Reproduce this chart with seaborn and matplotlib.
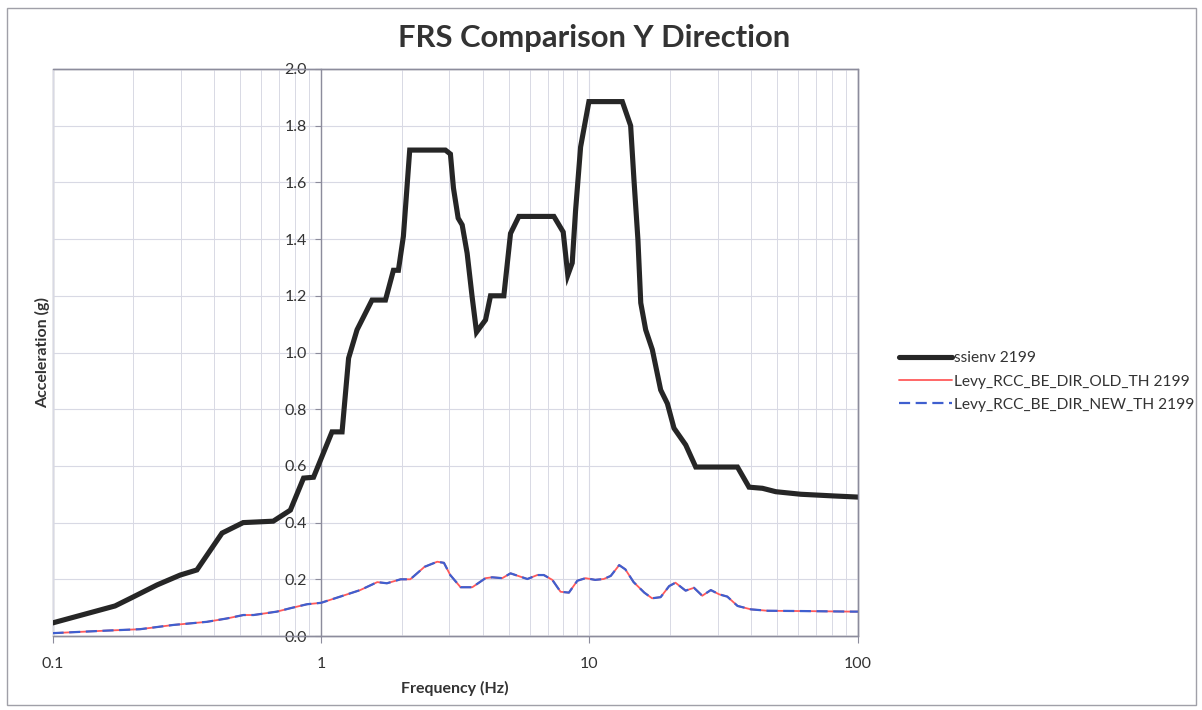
import matplotlib
matplotlib.use("Agg")
import matplotlib.pyplot as plt
import seaborn as sns
import pandas as pd
from matplotlib.ticker import FixedLocator, FixedFormatter, LogLocator, NullFormatter
from matplotlib.patches import Rectangle

# ---------------- data ----------------
env_freq = [0.1, 0.171, 0.2, 0.245, 0.299, 0.345, 0.428, 0.513, 0.664, 0.769,
            0.861, 0.938, 1.099, 1.198, 1.267, 1.362, 1.549, 1.738, 1.861, 1.942,
            2.027, 2.14, 2.906, 3.034, 3.114, 3.242, 3.356, 3.502, 3.655, 3.796,
            4.1, 4.279, 4.797, 5.08, 5.456, 7.369, 7.981, 8.302, 8.623, 8.873,
            9.265, 9.95, 13.25, 14.23, 14.64, 15.15, 15.52, 16.19, 17.14, 18.41,
            19.5, 20.64, 22.82, 24.87, 35.57, 39.28, 44.07, 49.4, 61.2, 81.3, 100]
env_acc = [0.046, 0.106, 0.138, 0.18, 0.215, 0.233, 0.363, 0.40, 0.405, 0.444,
           0.557, 0.56, 0.72, 0.72, 0.98, 1.08, 1.185, 1.185, 1.29, 1.29,
           1.41, 1.714, 1.714, 1.70, 1.58, 1.474, 1.45, 1.35, 1.196, 1.072,
           1.115, 1.2, 1.2, 1.42, 1.48, 1.48, 1.425, 1.273, 1.316, 1.50,
           1.725, 1.885, 1.885, 1.80, 1.61, 1.397, 1.175, 1.08, 1.01, 0.868,
           0.82, 0.733, 0.674, 0.596, 0.596, 0.525, 0.521, 0.509, 0.50, 0.494, 0.49]

th_freq = [0.1, 0.159, 0.212, 0.282, 0.376, 0.447, 0.514, 0.561, 0.685, 0.769,
           0.887, 1.0, 1.18, 1.40, 1.62, 1.76, 1.98, 2.15, 2.43, 2.71,
           2.87, 3.03, 3.31, 3.66, 4.10, 4.34, 4.73, 5.08, 5.87, 6.39,
           6.76, 7.27, 7.80, 8.38, 9.01, 9.67, 10.5, 11.3, 12.0, 12.9,
           13.6, 14.6, 16.0, 17.1, 18.4, 19.8, 20.9, 22.8, 24.5, 26.3,
           28.3, 30.4, 32.6, 35.6, 39.9, 46.1, 61.2, 95.5, 100]
old_acc = [0.01, 0.019, 0.024, 0.039, 0.05, 0.062, 0.074, 0.074, 0.086, 0.098,
           0.112, 0.117, 0.139, 0.162, 0.19, 0.186, 0.20, 0.20, 0.244, 0.262,
           0.258, 0.215, 0.172, 0.172, 0.204, 0.207, 0.204, 0.221, 0.201, 0.215,
           0.215, 0.198, 0.156, 0.153, 0.195, 0.204, 0.198, 0.201, 0.212, 0.25,
           0.235, 0.19, 0.153, 0.133, 0.137, 0.176, 0.188, 0.16, 0.17, 0.142,
           0.162, 0.147, 0.139, 0.106, 0.094, 0.089, 0.088, 0.086, 0.086]
new_acc = [0.01, 0.019, 0.024, 0.039, 0.05, 0.062, 0.074, 0.074, 0.086, 0.098,
           0.112, 0.117, 0.139, 0.162, 0.19, 0.186, 0.20, 0.20, 0.244, 0.262,
           0.258, 0.215, 0.172, 0.172, 0.204, 0.207, 0.204, 0.221, 0.201, 0.215,
           0.215, 0.198, 0.156, 0.153, 0.195, 0.204, 0.198, 0.201, 0.212, 0.25,
           0.235, 0.19, 0.153, 0.133, 0.137, 0.176, 0.188, 0.16, 0.17, 0.142,
           0.162, 0.147, 0.139, 0.106, 0.094, 0.089, 0.088, 0.086, 0.086]

series_names = ["ssienv 2199", "Levy_RCC_BE_DIR_OLD_TH 2199", "Levy_RCC_BE_DIR_NEW_TH 2199"]
x_ticks = [0.1, 1, 10, 100]
x_tick_labels = ["0.1", "1", "10", "100"]
y_ticks = [0.0, 0.2, 0.4, 0.6, 0.8, 1.0, 1.2, 1.4, 1.6, 1.8, 2.0]
title = "FRS Comparison Y Direction"
x_label = "Frequency (Hz)"
y_label = "Acceleration (g)"

# ---------------- style ----------------
sns.set_theme(style="white")
plt.rcParams["font.family"] = ["Lato", "DejaVu Sans"]
txt = "#333333"
grid_c = "#d8d9e4"
axis_c = "#8c8c9c"

fig = plt.figure(figsize=(12.02, 7.10), dpi=100)
W, H = 1202, 710
L, R, T, B = 52.5, 858, 69, 636
ax = fig.add_axes([L / W, 1 - B / H, (R - L) / W, (B - T) / H])

env_df = pd.DataFrame({"f": env_freq, "a": env_acc})
old_df = pd.DataFrame({"f": th_freq, "a": old_acc})
new_df = pd.DataFrame({"f": th_freq, "a": new_acc})

sns.lineplot(data=env_df, x="f", y="a", ax=ax, color="#262626", lw=3.7,
             sort=False, estimator=None, label=series_names[0],
             solid_joinstyle="miter")
sns.lineplot(data=old_df, x="f", y="a", ax=ax, color="#ff5a5a", lw=1.3,
             sort=False, estimator=None, label=series_names[1])
sns.lineplot(data=new_df, x="f", y="a", ax=ax, color="#3f5fcf", lw=1.6,
             sort=False, estimator=None, label=series_names[2],
             dashes=False)
ax.lines[-1].set_dashes((5, 2.5))

ax.set_xscale("log")
ax.set_xlim(0.1, 100)
ax.set_ylim(0, 2.0)

ax.xaxis.set_major_locator(FixedLocator(x_ticks))
ax.xaxis.set_major_formatter(FixedFormatter(x_tick_labels))
ax.xaxis.set_minor_locator(LogLocator(base=10, subs=range(2, 10)))
ax.xaxis.set_minor_formatter(NullFormatter())
ax.set_yticks(y_ticks)
ax.set_yticklabels([f"{v:.1f}" for v in y_ticks])

ax.grid(which="major", axis="both", color=grid_c, lw=0.8)
ax.grid(which="minor", axis="x", color=grid_c, lw=0.7)
ax.set_axisbelow(True)

# axes: y axis crosses at x = 1
ax.spines["left"].set_position(("data", 1))
for s in ["left", "bottom", "top", "right"]:
    ax.spines[s].set_color(axis_c)
    ax.spines[s].set_linewidth(1.0)
ax.spines["left"].set_zorder(1)
ax.add_patch(Rectangle((0, 0), 1, 1, transform=ax.transAxes, fill=False,
                       edgecolor=axis_c, lw=1.0, zorder=0.5, clip_on=False))

ax.tick_params(axis="y", which="major", direction="out", length=4, width=0.8,
               color=axis_c, pad=6, labelsize=11.5, labelcolor=txt, left=True)
ax.tick_params(axis="x", which="major", direction="out", length=5, width=0.8,
               color=axis_c, pad=10, labelsize=11.5, labelcolor=txt, bottom=True)
ax.tick_params(axis="x", which="minor", length=0)

ax.set_xlabel(x_label, fontsize=11.5, fontweight="bold", color=txt)
ax.set_ylabel(y_label, fontsize=11.5, fontweight="bold", color=txt)
ax.xaxis.set_label_coords(0.5, -(681 - B) / (B - T))
ax.yaxis.set_label_coords(-(L - 50) / (R - L), 0.5)

fig.text(594 / W, 1 - 38 / H, title, ha="center", va="center",
         fontsize=22.3, fontweight="bold", color=txt)

handles, labels = ax.get_legend_handles_labels()
leg = ax.legend(handles, labels, loc="upper left",
                bbox_to_anchor=(893 / W, 1 - 345 / H), bbox_transform=fig.transFigure,
                frameon=False, fontsize=11.2, handlelength=3.4, handletextpad=0.15,
                labelspacing=0.6, borderaxespad=0)
for t in leg.get_texts():
    t.set_color(txt)

# chart area border
fig.patches.append(Rectangle((7 / W, 1 - 705 / H), (1196 - 7) / W, (705 - 8) / H,
                             transform=fig.transFigure, fill=False,
                             edgecolor="#a0a0a8", lw=1.0))

fig.savefig("out.png", dpi=100)
